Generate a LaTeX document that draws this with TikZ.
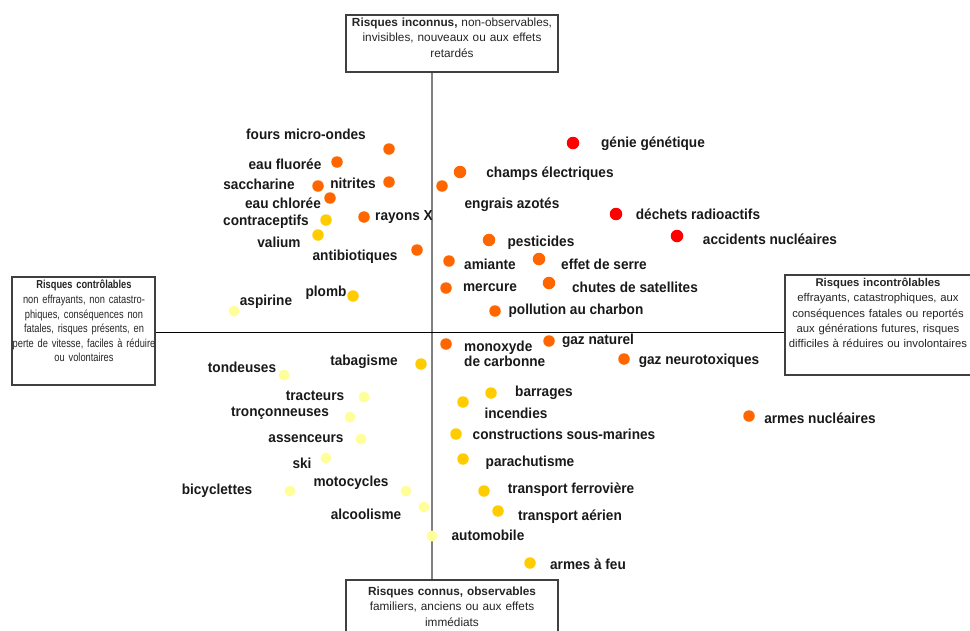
\documentclass[tikz,border=0pt]{standalone}
\usepackage{fontspec}
\setmainfont{Liberation Sans}
\newfontfamily\lblfont[FakeStretch=0.94]{Liberation Sans}
\newfontfamily\narrowfont[FakeStretch=0.8]{Liberation Sans}
\definecolor{cR}{HTML}{FF0000}
\definecolor{cO}{HTML}{FF6600}
\definecolor{cA}{HTML}{FFCC00}
\definecolor{cY}{HTML}{FFFF99}
\tikzset{
  dotR/.style={circle, fill=cR, inner sep=0pt, minimum size=12.5pt},
  dotO/.style={circle, fill=cO, inner sep=0pt, minimum size=11.5pt},
  dotA/.style={circle, fill=cA, inner sep=0pt, minimum size=11.5pt},
  dotY/.style={circle, fill=cY, inner sep=0pt, minimum size=11pt},
  lbl/.style={font=\lblfont\bfseries\fontsize{14.5}{15}\selectfont, inner sep=0pt, text=black!90},
  frame/.style={draw=black!75, line width=1.2pt, fill=white, inner sep=0pt},
  boxtxt/.style={font=\fontsize{11.8}{15.2}\selectfont, align=center, inner sep=0pt, text=black!85},
  righttxtst/.style={font=\fontsize{11.3}{15.2}\selectfont, align=center, inner sep=0pt, text=black!85},
  sidetxt/.style={font=\narrowfont\fontsize{11.6}{14.6}\selectfont, align=center, inner sep=0pt, text=black!85},
  axisv/.style={draw=black!50, line width=1.6pt},
  axish/.style={draw=black, line width=1pt}
}
\begin{document}
\begin{tikzpicture}[x=1pt, y=-1pt]
\useasboundingbox (0,0) rectangle (970,630);
\clip (0,0) rectangle (970,630);
% boxes
\node[frame, minimum width=212pt, minimum height=57pt] (top) at (452,43.5) {};
\node[boxtxt, text width=206pt, anchor=north] (toptxt) at (452,18)
  {\textbf{Risques inconnus,} non-observables,\\ invisibles, nouveaux ou aux effets\\ retardés};
\node[frame, minimum width=212pt, minimum height=62pt] (bot) at (452,611) {};
\node[boxtxt, text width=206pt, anchor=north] (bottxt) at (452,587)
  {\textbf{Risques connus, observables}\\ familiers, anciens ou aux effets\\ immédiats};
\node[frame, minimum width=143pt, minimum height=108pt] (left) at (83.5,331) {};
\node[sidetxt, text width=156pt, anchor=north] (lefttxt) at (84,280)
  {\textbf{Risques contrôlables}\\ non effrayants, non catastro-\\ phiques, conséquences non\\ fatales, risques présents, en\\ perte de vitesse, faciles à réduire\\ ou volontaires};
\node[frame, minimum width=200pt, minimum height=100pt] (right) at (885,325) {};
\node[righttxtst, text width=190pt, anchor=north] (righttxt) at (878,278)
  {\textbf{Risques incontrôlables}\\ effrayants, catastrophiques, aux\\ conséquences fatales ou reportés\\ aux générations futures, risques\\ difficiles à réduires ou involontaires};
% axes
\coordinate (hl) at (0,332);
\coordinate (va) at (432,0);
\draw[axisv] (top.south -| va) -- (bot.north -| va);
\draw[axish] (left.east |- hl) -- (right.west |- hl);
% labels
\node[lbl] (l1) at (306,134) {fours micro-ondes};
\node[lbl] (l2) at (285,164) {eau fluorée};
\node[lbl] (l3) at (259,184) {saccharine};
\node[lbl] (l4) at (353,183) {nitrites};
\node[lbl] (l5) at (283,203) {eau chlorée};
\node[lbl] (l6) at (266,222) {contraceptifs};
\node[lbl] (l7) at (404,217) {rayons X};
\node[lbl] (l8) at (279,242) {valium};
\node[lbl] (l9) at (355,257) {antibiotiques};
\node[lbl] (l10) at (653,144) {génie génétique};
\node[lbl] (l11) at (550,174) {champs électriques};
\node[lbl] (l12) at (512,205) {engrais azotés};
\node[lbl] (l13) at (698,214) {déchets radioactifs};
\node[lbl] (l14) at (770,239) {accidents nucléaires};
\node[lbl] (l15) at (541,243) {pesticides};
\node[lbl] (l16) at (490,264) {amiante};
\node[lbl] (l17) at (604,264) {effet de serre};
\node[lbl] (l18) at (490,288) {mercure};
\node[lbl] (l19) at (635,287) {chutes de satellites};
\node[lbl] (l20) at (576,311) {pollution au charbon};
\node[lbl] (l21) at (326,293) {plomb};
\node[lbl] (l22) at (266,302) {aspirine};
\node[lbl, align=left, anchor=west, font=\lblfont\bfseries\fontsize{14.5}{15.5}\selectfont] (l23) at (464,354) {monoxyde\\de carbonne};
\node[lbl] (l24) at (598,341) {gaz naturel};
\node[lbl] (l25) at (699,361) {gaz neurotoxiques};
\node[lbl] (l26) at (242,367) {tondeuses};
\node[lbl] (l27) at (364,362) {tabagisme};
\node[lbl] (l28) at (315,396) {tracteurs};
\node[lbl] (l29) at (280,413) {tronçonneuses};
\node[lbl] (l30) at (306,439) {assenceurs};
\node[lbl] (l31) at (302,463) {ski};
\node[lbl] (l32) at (217,491) {bicyclettes};
\node[lbl] (l33) at (351,483) {motocycles};
\node[lbl] (l34) at (366,514) {alcoolisme};
\node[lbl] (l35) at (544,393) {barrages};
\node[lbl] (l36) at (516,413) {incendies};
\node[lbl] (l37) at (564,434) {constructions sous-marines};
\node[lbl] (l38) at (530,463) {parachutisme};
\node[lbl] (l39) at (571,490) {transport ferrovière};
\node[lbl] (l40) at (570,517) {transport aérien};
\node[lbl] (l41) at (488,535) {automobile};
\node[lbl] (l42) at (588,564) {armes à feu};
\node[lbl] (l43) at (820,418) {armes nucléaires};
% dots
\node[dotO] (d1) at (389,149) {};
\node[dotO] (d2) at (337,162) {};
\node[dotO] (d3) at (318,186) {};
\node[dotO] (d4) at (389,182) {};
\node[dotO] (d5) at (330,198) {};
\node[dotA] (d6) at (326,220) {};
\node[dotO] (d7) at (364,217) {};
\node[dotA] (d8) at (318,235) {};
\node[dotO] (d9) at (417,250) {};
\node[dotR] (d10) at (573,143) {};
\node[dotO, minimum size=12.5pt] (d11) at (460,172) {};
\node[dotO] (d12) at (442,186) {};
\node[dotR] (d13) at (616,214) {};
\node[dotR] (d14) at (677,236) {};
\node[dotO, minimum size=12.5pt] (d15) at (489,240) {};
\node[dotO] (d16) at (449,261) {};
\node[dotO, minimum size=12.5pt] (d17) at (539,259) {};
\node[dotO] (d18) at (446,288) {};
\node[dotO, minimum size=12.5pt] (d19) at (549,283) {};
\node[dotO] (d20) at (495,311) {};
\node[dotA] (d21) at (353,296) {};
\node[dotY] (d22) at (234,311) {};
\node[dotO] (d23) at (446,344) {};
\node[dotO] (d24) at (549,341) {};
\node[dotO] (d25) at (624,359) {};
\node[dotY] (d26) at (284,375) {};
\node[dotA] (d27) at (421,364) {};
\node[dotY] (d28) at (364,397) {};
\node[dotY] (d29) at (350,417) {};
\node[dotY] (d30) at (361,439) {};
\node[dotY] (d31) at (326,458) {};
\node[dotY] (d32) at (290,491) {};
\node[dotY] (d33) at (406,491) {};
\node[dotY] (d34) at (424,507) {};
\node[dotA] (d35) at (491,393) {};
\node[dotA] (d36) at (463,402) {};
\node[dotA] (d37) at (456,434) {};
\node[dotA] (d38) at (463,459) {};
\node[dotA] (d39) at (484,491) {};
\node[dotA] (d40) at (498,511) {};
\node[dotY] (d41) at (432,536) {};
\node[dotA] (d42) at (530,563) {};
\node[dotO] (d43) at (749,416) {};
\end{tikzpicture}
\end{document}
